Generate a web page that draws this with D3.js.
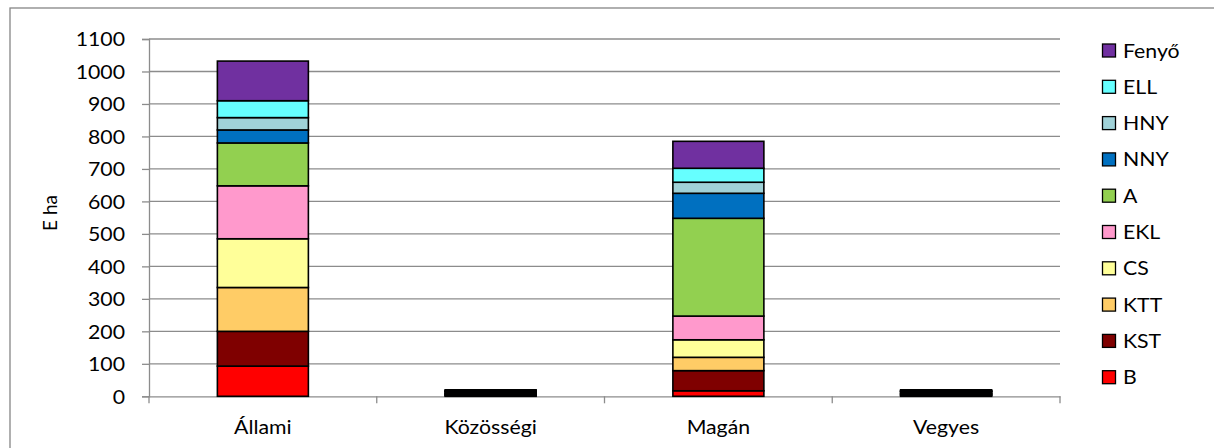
<!DOCTYPE html>
<html><head><meta charset="utf-8">
<script src="https://cdn.jsdelivr.net/npm/d3@7"></script>
<style>
body{margin:0;background:#fff}
svg{display:block}
text{font-family:Lato,'Open Sans',sans-serif;fill:#000}
</style>
</head><body><svg id="c" width="1214" height="448"></svg>
<script>
const categories = ["Állami", "Közösségi", "Magán", "Vegyes"];
const seriesNames = ["B", "KST", "KTT", "CS", "EKL", "A", "NNY", "HNY", "ELL", "Fenyő"];
const valB     = [93, 2, 17, 2];
const valKST   = [107, 2, 62, 2];
const valKTT   = [135, 2, 41, 2];
const valCS    = [150, 2, 54, 2];
const valEKL   = [163, 2, 73, 2];
const valA     = [132, 4, 301, 4];
const valNNY   = [40, 1, 77, 1];
const valHNY   = [38, 1, 34, 1];
const valELL   = [52, 1, 43, 1];
const valFenyo = [122, 3, 83, 3];
const seriesColors = ["#FF0000", "#7F0000", "#FFCC66", "#FFFF99", "#FF99CC", "#92D050", "#0070C0", "#A0D2D8", "#66FFFF", "#7030A0"];
const yTicks = [0, 100, 200, 300, 400, 500, 600, 700, 800, 900, 1000, 1100];
const yTitle = "E ha";

const seriesValues = [valB, valKST, valKTT, valCS, valEKL, valA, valNNY, valHNY, valELL, valFenyo];
const table = categories.map((c, i) => {
  const row = {cat: c};
  seriesNames.forEach((s, j) => row[s] = seriesValues[j][i]);
  return row;
});

const svg = d3.select("#c");
const K = 1.12; // horizontal text stretch
const FS = 19;

// outer border
svg.append("rect").attr("x", 10).attr("y", 8).attr("width", 1220).attr("height", 460)
  .attr("fill", "none").attr("stroke", "#868686").attr("stroke-width", 1.3);

const x0 = 149, x1 = 1060, yBase = 396.3, yTop = 39;
const xOuter = d3.scaleBand().domain(categories).range([x0, x1]);
const y = d3.scaleLinear().domain([0, 1100]).range([yBase, yTop]);

// gridlines
svg.append("g").selectAll("line").data(yTicks.filter(t => t > 0)).join("line")
  .attr("x1", x0).attr("x2", x1).attr("y1", d => y(d)).attr("y2", d => y(d))
  .attr("stroke", "#8c8c8c").attr("stroke-width", 1.3);

// y axis
const yAxis = svg.append("g").attr("transform", `translate(${x0},0)`)
  .call(d3.axisLeft(y).tickValues(yTicks).tickSize(7).tickPadding(0).tickFormat(d3.format("d")));
yAxis.select(".domain").attr("stroke", "#8c8c8c").attr("stroke-width", 1.3);
yAxis.selectAll(".tick line").attr("stroke", "#8c8c8c").attr("stroke-width", 1.3);
yAxis.selectAll(".tick text")
  .attr("font-size", FS).attr("font-family", "Lato,'Open Sans',sans-serif").attr("fill", "#000")
  .attr("x", -24 / K).attr("dy", "0.36em").attr("transform", `scale(${K},1)`);

// x axis
const xAxis = svg.append("g").attr("transform", `translate(0,${yBase})`)
  .call(d3.axisBottom(xOuter).tickSize(0).tickPadding(0));
xAxis.select(".domain").attr("stroke", "#8c8c8c").attr("stroke-width", 1.3);
xAxis.selectAll(".tick text").attr("font-size", FS).attr("font-family", "Lato,'Open Sans',sans-serif")
  .attr("fill", "#000").attr("y", 38).attr("dy", 0).attr("transform", `scale(${K},1)`);
// category boundary ticks
const bounds = categories.map(c => xOuter(c)).concat([x1]);
xAxis.append("g").selectAll("line").data(bounds).join("line")
  .attr("x1", d => d).attr("x2", d => d).attr("y1", 0).attr("y2", 7)
  .attr("stroke", "#8c8c8c").attr("stroke-width", 1.3);

// y title
svg.append("text").attr("transform", `translate(57,213) rotate(-90)`)
  .attr("text-anchor", "middle").attr("font-size", FS).text(yTitle);

// stacked bars
const stacked = d3.stack().keys(seriesNames)(table);
const bw = 91;
svg.append("g").selectAll("g").data(stacked).join("g")
  .attr("fill", (d, i) => seriesColors[i])
  .selectAll("rect").data(d => d).join("rect")
  .attr("x", d => xOuter(d.data.cat) + xOuter.bandwidth() / 2 - bw / 2)
  .attr("width", bw)
  .attr("y", d => y(d[1]))
  .attr("height", d => y(d[0]) - y(d[1]))
  .attr("stroke", "#000").attr("stroke-width", 1.6);

// legend
const legendNames = seriesNames.slice().reverse();
const legendColors = seriesColors.slice().reverse();
const lg = svg.append("g").selectAll("g").data(legendNames).join("g")
  .attr("transform", (d, i) => `translate(1102,${50.5 + i * 36.3})`);
lg.append("rect").attr("x", 0.5).attr("y", -6.5).attr("width", 13).attr("height", 13)
  .attr("fill", (d, i) => legendColors[i]).attr("stroke", "#000").attr("stroke-width", 1.3);
lg.append("text").attr("x", 21 / K).attr("y", 7).attr("font-size", FS)
  .attr("transform", `scale(${K},1)`).text(d => d);
</script>
</body></html>
